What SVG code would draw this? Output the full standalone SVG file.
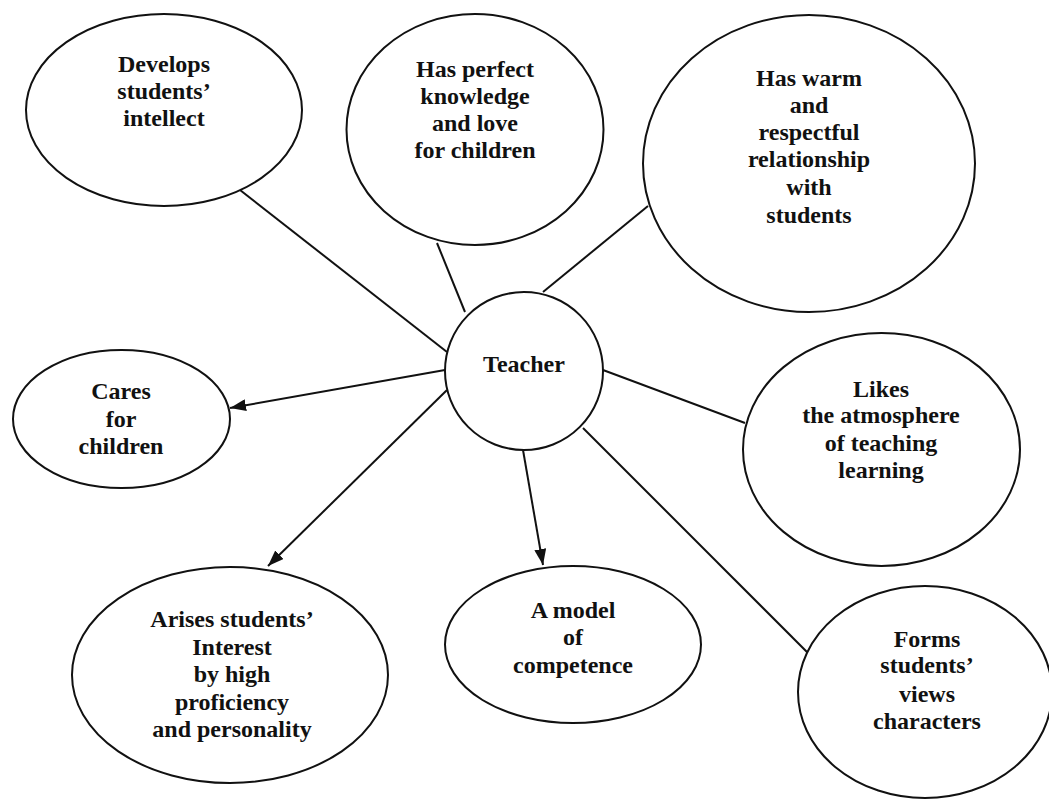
<svg xmlns="http://www.w3.org/2000/svg" width="1049" height="800" viewBox="0 0 1049 800">
<style>
.n{fill:#fff;stroke:#111;stroke-width:2}
.t{font-family:"Liberation Serif","Times New Roman",serif;font-weight:bold;font-size:24px;fill:#111;text-anchor:middle}
.c{stroke:#111;stroke-width:2;fill:none}
.a{marker-end:url(#ah)}
</style>
<defs>
<marker id="ah" markerUnits="userSpaceOnUse" markerWidth="16" markerHeight="12" viewBox="0 0 16 12" refX="16" refY="6" orient="auto">
<path d="M0,0 L16,6 L0,12 Z" fill="#111"/>
</marker>
</defs>
<rect width="1049" height="800" fill="#fff"/>
<g id="connectors">
<line class="c" x1="447" y1="352" x2="240" y2="190"/>
<line class="c" x1="465" y1="312" x2="437" y2="243"/>
<line class="c" x1="543" y1="292" x2="648" y2="206"/>
<line class="c" x1="603" y1="370" x2="745" y2="423"/>
<line class="c" x1="583" y1="428" x2="808" y2="653"/>
<line class="c a" x1="445" y1="370" x2="230" y2="408"/>
<line class="c a" x1="447" y1="390" x2="268" y2="566"/>
<line class="c a" x1="523" y1="450" x2="543" y2="565"/>
</g>
<g id="develops">
<ellipse class="n" cx="164" cy="110" rx="138" ry="96"/>
<text class="t" x="164" y="72">Develops</text>
<text class="t" x="164" y="99">students’</text>
<text class="t" x="164" y="126">intellect</text>
</g>
<g id="perfect">
<ellipse class="n" cx="475" cy="129.5" rx="128.5" ry="115.5"/>
<text class="t" x="475" y="77">Has perfect</text>
<text class="t" x="475" y="104">knowledge</text>
<text class="t" x="475" y="131">and love</text>
<text class="t" x="475" y="158">for children</text>
</g>
<g id="warm">
<ellipse class="n" cx="809" cy="163.5" rx="166" ry="148.5"/>
<text class="t" x="809" y="86">Has warm</text>
<text class="t" x="809" y="113">and</text>
<text class="t" x="809" y="140">respectful</text>
<text class="t" x="809" y="167">relationship</text>
<text class="t" x="809" y="195">with</text>
<text class="t" x="809" y="223">students</text>
</g>
<g id="teacher">
<circle class="n" cx="524" cy="371" r="79"/>
<text class="t" x="524" y="372">Teacher</text>
</g>
<g id="cares">
<ellipse class="n" cx="121.5" cy="419" rx="108.5" ry="69"/>
<text class="t" x="121" y="399">Cares</text>
<text class="t" x="121" y="427">for</text>
<text class="t" x="121" y="454">children</text>
</g>
<g id="likes">
<ellipse class="n" cx="881.5" cy="449.5" rx="138.5" ry="116.5"/>
<text class="t" x="881" y="397">Likes</text>
<text class="t" x="881" y="423">the atmosphere</text>
<text class="t" x="881" y="451">of teaching</text>
<text class="t" x="881" y="478">learning</text>
</g>
<g id="arises">
<ellipse class="n" cx="230" cy="675" rx="158" ry="108"/>
<text class="t" x="232" y="627">Arises students’</text>
<text class="t" x="232" y="655">Interest</text>
<text class="t" x="232" y="682">by high</text>
<text class="t" x="232" y="710">proficiency</text>
<text class="t" x="232" y="737">and personality</text>
</g>
<g id="model">
<ellipse class="n" cx="573" cy="644.5" rx="128" ry="78.5"/>
<text class="t" x="573" y="618">A model</text>
<text class="t" x="573" y="645">of</text>
<text class="t" x="573" y="673">competence</text>
</g>
<g id="forms">
<ellipse class="n" cx="925" cy="692" rx="127" ry="106"/>
<text class="t" x="927" y="647">Forms</text>
<text class="t" x="927" y="673">students’</text>
<text class="t" x="927" y="702">views</text>
<text class="t" x="927" y="729">characters</text>
</g>
</svg>
